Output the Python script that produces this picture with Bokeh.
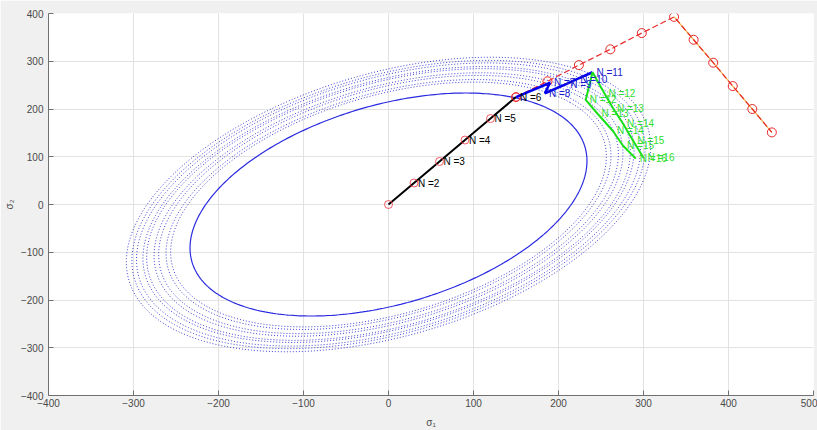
import numpy as np
from bokeh.plotting import figure
from bokeh.models import Range1d, FixedTicker, ColumnDataSource
from bokeh.core.properties import value
from bokeh.embed import file_html
from bokeh.resources import INLINE

# ---- data ----
x_ticks = [-400, -300, -200, -100, 0, 100, 200, 300, 400, 500]
y_ticks = [-400, -300, -200, -100, 0, 100, 200, 300, 400]

# yield surfaces: s1^2 - 2*k*s1*s2 + s2^2 = R^2
coupling_k = 0.39
solid_R = 215
dotted_R = [236, 241, 249, 254, 262, 266, 273, 278, 284]

black_n = [1, 2, 3, 4, 5, 6]
black_s1 = [0, 30, 60, 90, 120, 150]
black_s2 = [0, 45, 90, 135, 180, 225]

blue_n = [7, 8, 9, 10, 11]
blue_s1 = [190, 184, 209, 221, 240]
blue_s2 = [255, 233, 252, 262, 277]

green_a_n = [12, 13, 14, 15, 16]
green_a_s1 = [254, 264, 276, 288, 300]
green_a_s2 = [233, 202, 169, 133, 98]

green_b_n = [12, 13, 14, 15, 16]
green_b_s1 = [232, 246, 264, 276, 291]
green_b_s2 = [219, 190, 154, 123, 96]

red_s1 = [150, 187, 224, 261, 298, 336, 359, 382, 405, 428, 451]
red_s2 = [225, 258, 292, 325, 359, 393, 345, 297, 248, 200, 151]

FONT = "Liberation Sans"

p = figure(width=817, height=430, output_backend="svg", toolbar_location=None,
           x_range=Range1d(-400, 500), y_range=Range1d(-400, 400),
           min_border_left=48, min_border_right=4, min_border_top=13, min_border_bottom=34)
p.border_fill_color = "#f0f0f0"
p.background_fill_color = "white"
p.outline_line_color = None

for ax in (p.xaxis[0], p.yaxis[0]):
    ax.major_tick_in = 5
    ax.major_tick_out = 0
    ax.minor_tick_line_color = None
    ax.axis_line_color = "#707070"
    ax.major_tick_line_color = "#707070"
    ax.major_label_text_font = FONT
    ax.major_label_text_font_size = "10px"
    ax.major_label_text_color = "#4a4a4a"
    ax.axis_label_text_font = FONT
    ax.axis_label_text_font_size = "10px"
    ax.axis_label_text_font_style = "normal"
    ax.axis_label_text_color = "#4a4a4a"
p.xaxis.ticker = FixedTicker(ticks=x_ticks)
p.yaxis.ticker = FixedTicker(ticks=y_ticks)
p.xaxis.major_label_standoff = 3
p.yaxis.major_label_standoff = 5
p.xaxis.axis_label = "σ₁"
p.yaxis.axis_label = "σ₂"
p.xaxis.axis_label_standoff = 7
p.yaxis.axis_label_standoff = 3
p.grid.grid_line_color = "#e2e2e2"
p.grid.grid_line_width = 1


def ellipse(R, k=coupling_k):
    t = np.linspace(0, 2 * np.pi, 361)
    u = R / np.sqrt(1 - k) * np.cos(t)
    v = R / np.sqrt(1 + k) * np.sin(t)
    return (u - v) / np.sqrt(2), (u + v) / np.sqrt(2)


for R in dotted_R:
    ex, ey = ellipse(R)
    p.line(ex, ey, line_color="#2020d0", line_width=1, line_dash="1 2", line_alpha=0.85)
ex, ey = ellipse(solid_R)
p.line(ex, ey, line_color="#2a2ae0", line_width=1.2)

# red dashed path
p.line(red_s1[5:], red_s2[5:], line_color="#f2b24a", line_width=1.2)
p.line(red_s1, red_s2, line_color="#e8282a", line_width=1.2, line_dash="6 3")
p.scatter(red_s1, red_s2, marker="circle", size=9, fill_color=None,
          line_color="#e8282a", line_width=1)

# black path
p.line(black_s1, black_s2, line_color="black", line_width=2)
p.scatter(black_s1, black_s2, marker="circle", size=8, fill_color=None,
          line_color="#ee3340", line_width=1, line_alpha=0.8)

# blue path
bx = [black_s1[-1]] + blue_s1
by = [black_s2[-1]] + blue_s2
p.line(bx, by, line_color="#0000ee", line_width=2.5)

# green paths
gax = [blue_s1[-1]] + green_a_s1
gay = [blue_s2[-1]] + green_a_s2
gbx = [blue_s1[-1]] + green_b_s1
gby = [blue_s2[-1]] + green_b_s2
p.line(gax, gay, line_color="#18e018", line_width=2)
p.line(gbx, gby, line_color="#18e018", line_width=2)


def labels(xs, ys, ns, color):
    src = ColumnDataSource(dict(x=xs, y=ys, t=["N =%d" % n for n in ns]))
    p.text(x="x", y="y", text="t", source=src, x_offset=4, text_baseline="middle",
           text_align="left", text_font=value(FONT), text_font_size="10px",
           text_color=color)


labels(black_s1[1:], black_s2[1:], black_n[1:], "black")
labels(blue_s1, blue_s2, blue_n, "#1a1acc")
labels(green_a_s1, green_a_s2, green_a_n, "#2ee02e")
labels(green_b_s1, green_b_s2, green_b_n, "#2ee02e")

open("out.html", "w").write(file_html(p, INLINE))
